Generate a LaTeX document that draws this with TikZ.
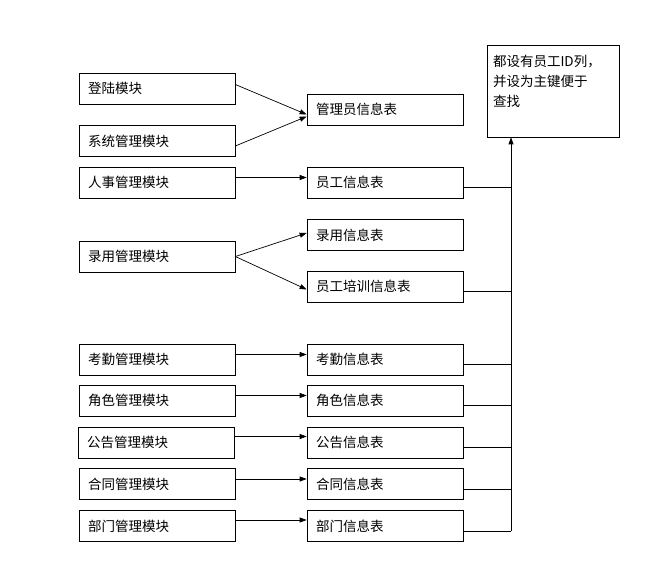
\documentclass[tikz,border=0pt]{standalone}
\usepackage{fontspec}
\newfontfamily\cjk{Noto Sans CJK SC}
\usetikzlibrary{arrows.meta}

\begin{document}
\begin{tikzpicture}
    [
        x=1pt, y=-1pt,
        box/.style={rectangle, draw, line width=0.7pt, minimum height=31pt,
            inner xsep=9pt, text width=138pt, align=left,
            font=\cjk\fontsize{13.5}{20}\selectfont},
        note/.style={box, minimum height=92pt, inner xsep=6pt, text width=120pt},
        edge/.style={-{Triangle[length=7pt,width=5pt]}, line width=0.7pt},
        wire/.style={line width=0.7pt},
    ]
    \useasboundingbox (0,0) rectangle (655,585);

    % modules
    \node (m1) at (157,88.5)  [box] {登陆模块};
    \node (m2) at (157,141)   [box] {系统管理模块};
    \node (m3) at (157,182.5) [box] {人事管理模块};
    \node (m4) at (157,256.5) [box] {录用管理模块};
    \node (m5) at (157,359.5) [box] {考勤管理模块};
    \node (m6) at (157,400.5) [box] {角色管理模块};
    \node (m7) at (156,442.5) [box] {公告管理模块};
    \node (m8) at (157,484)   [box] {合同管理模块};
    \node (m9) at (157,526)   [box] {部门管理模块};

    % tables
    \node (t1) at (385,109.5) [box] {管理员信息表};
    \node (t2) at (385,182.5) [box] {员工信息表};
    \node (t3) at (385,235)   [box] {录用信息表};
    \node (t4) at (385,286.5) [box] {员工培训信息表};
    \node (t5) at (385,359.5) [box] {考勤信息表};
    \node (t6) at (385,400.5) [box] {角色信息表};
    \node (t7) at (385,442.5) [box] {公告信息表};
    \node (t8) at (385,484)   [box] {合同信息表};
    \node (t9) at (385,526)   [box] {部门信息表};

    % note
    \node (n) at (553,91) [note] {\mbox{都设有员工ID列，}\\并设为主键便于\\查找\\\mbox{}};

    \draw [edge] ([yshift=4pt]m1.east) -- ([yshift=-5pt]t1.west);
    \draw [edge] ([yshift=-5pt]m2.east) -- ([yshift=-7pt]t1.west);
    \draw [edge] ([yshift=5pt]m3.east) -- ([yshift=5pt]t2.west);
    \draw [edge] (m4.east) -- ([yshift=2pt]t3.west);
    \draw [edge] (m4.east) -- ([yshift=-3pt]t4.west);
    \draw [edge] ([yshift=5pt]m5.east) -- ([yshift=5pt]t5.west);
    \draw [edge] ([yshift=5pt]m6.east) -- ([yshift=5pt]t6.west);
    \draw [edge] ([yshift=6pt]m7.east) -- ([yshift=6pt]t7.west);
    \draw [edge] ([yshift=5pt]m8.east) -- ([yshift=5pt]t8.west);
    \draw [edge] ([yshift=6pt]m9.east) -- ([yshift=6pt]t9.west);

    % collecting line
    \coordinate (bus) at (511,531);
    \draw [edge] (bus) -- (bus |- n.south);
    \draw [wire] ([yshift=-5pt]t2.east) -- ([yshift=-5pt]t2.east -| bus);
    \draw [wire] ([yshift=-5pt]t4.east) -- ([yshift=-5pt]t4.east -| bus);
    \draw [wire] ([yshift=-5pt]t5.east) -- ([yshift=-5pt]t5.east -| bus);
    \draw [wire] ([yshift=-5pt]t6.east) -- ([yshift=-5pt]t6.east -| bus);
    \draw [wire] ([yshift=-5pt]t7.east) -- ([yshift=-5pt]t7.east -| bus);
    \draw [wire] ([yshift=-5pt]t8.east) -- ([yshift=-5pt]t8.east -| bus);
    \draw [wire] ([yshift=-5pt]t9.east) -- (bus);
\end{tikzpicture}
\end{document}
